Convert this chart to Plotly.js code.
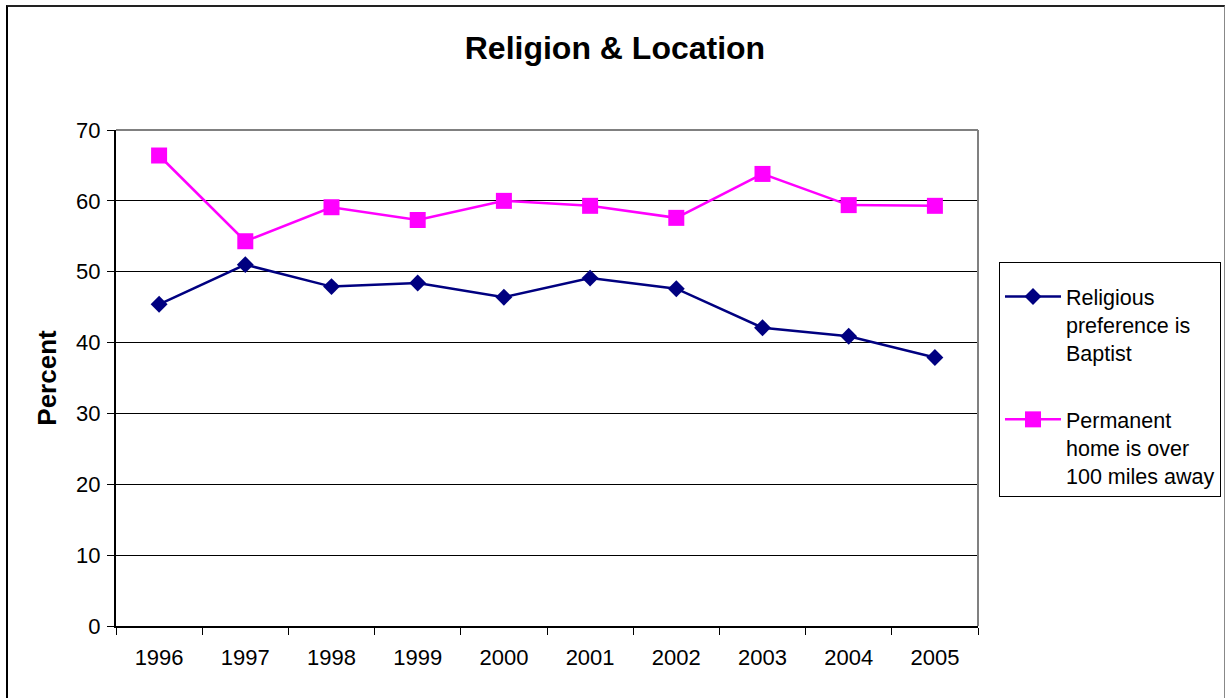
<!DOCTYPE html>
<html>
<head>
<meta charset="utf-8">
<script src="https://cdn.plot.ly/plotly-3.0.1.min.js"></script>
<style>
html,body{margin:0;padding:0;background:#fff;}
#chart{position:absolute;left:0;top:0;width:1225px;height:698px;}
#frame{position:absolute;left:6px;top:5px;width:1216px;height:700px;border-left:2px solid #000;border-top:2px solid #222;border-right:1px solid #888;pointer-events:none;}
</style>
</head>
<body>
<div id="chart"></div>
<div id="frame"></div>
<script>
const years = ['1996','1997','1998','1999','2000','2001','2002','2003','2004','2005'];
const baptist = [45.4, 51.0, 47.9, 48.4, 46.4, 49.1, 47.6, 42.1, 40.9, 37.9];
const farHome = [66.4, 54.3, 59.1, 57.3, 60.0, 59.3, 57.6, 63.8, 59.4, 59.3];
const seriesNames = ['Religious<br>preference is<br>Baptist', 'Permanent<br>home is over<br>100 miles away'];

const traces = [
  {x: years, y: baptist, name: seriesNames[0], type: 'scatter', mode: 'lines+markers',
   legendgroup: 'a',
   line: {color: '#000080', width: 2.5},
   marker: {symbol: 'diamond', size: 13, color: '#000080'}},
  {x: years, y: farHome, name: seriesNames[1], type: 'scatter', mode: 'lines+markers',
   legendgroup: 'b',
   line: {color: '#FF00FF', width: 2.5},
   marker: {symbol: 'square', size: 16, color: '#FF00FF'}}
];

const layout = {
  width: 1225, height: 698,
  margin: {l: 116, r: 247, t: 130, b: 72, autoexpand: false},
  paper_bgcolor: '#fff', plot_bgcolor: '#fff',
  font: {family: 'Liberation Sans, Arial, sans-serif', color: '#000', size: 22},
  title: {text: '<b>Religion & Location</b>', x: 0.502, xref: 'container', y: 0.932, yanchor: 'middle',
          font: {size: 32, color: '#000'}},
  xaxis: {type: 'category', range: [-0.5, 9.5], tickson: 'boundaries', ticks: 'outside', ticklen: 7,
          tickcolor: '#000', showline: true, linecolor: '#000', linewidth: 2, mirror: false,
          showgrid: false, tickfont: {size: 22}, ticklabelstandoff: 11},
  yaxis: {range: [0, 70], dtick: 10, ticks: 'outside', ticklen: 7, tickcolor: '#000',
          showline: true, linecolor: '#000', linewidth: 2, gridcolor: '#000', gridwidth: 1,
          zeroline: false, tickfont: {size: 22}, ticklabelstandoff: 2,
          title: {text: '<b>Percent</b>', font: {size: 26}, standoff: 12}},
  shapes: [
    {type: 'line', xref: 'paper', yref: 'paper', x0: 0, x1: 1, y0: 1, y1: 1, line: {color: '#808080', width: 2}},
    {type: 'line', xref: 'paper', yref: 'paper', x0: 1, x1: 1, y0: 0, y1: 1, line: {color: '#808080', width: 2}}
  ],
  legend: {xref: 'container', yref: 'container', x: 0.8155, xanchor: 'left', y: 0.6246, yanchor: 'top',
           bordercolor: '#000', borderwidth: 1,
           bgcolor: '#fff', font: {size: 21.5}, traceorder: 'grouped', tracegroupgap: 36, itemwidth: 56,
           valign: 'top', title: {text: ' ', font: {size: 10}}}
};

Plotly.newPlot('chart', traces, layout, {displayModeBar: false, staticPlot: true});
</script>
</body>
</html>
